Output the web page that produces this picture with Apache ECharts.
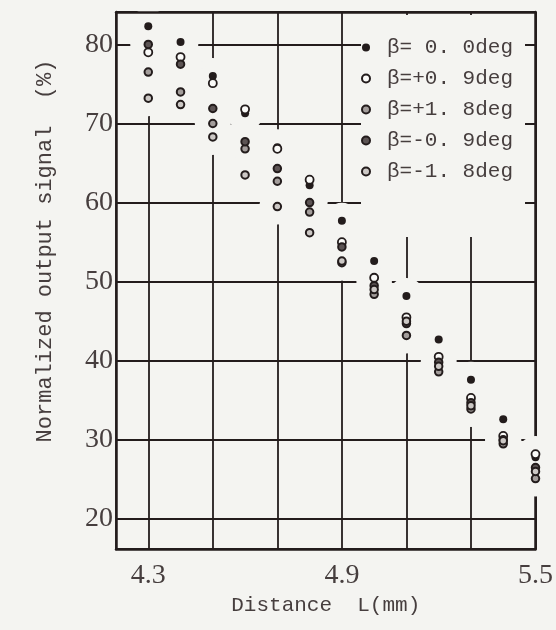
<!DOCTYPE html>
<html><head><meta charset="utf-8">
<script src="https://cdn.jsdelivr.net/npm/echarts@6/dist/echarts.min.js"></script>
<style>html,body{margin:0;padding:0;background:#f4f4f1;} #c{width:556px;height:630px;}</style>
</head><body><div id="c"></div>
<script>
// ---- data ----
const distance = [4.3, 4.4, 4.5, 4.6, 4.7, 4.8, 4.9, 5.0, 5.1, 5.2, 5.3, 5.4, 5.5];
const betaZero   = [82.3, 80.3, 76.0, 71.3, 67.0, 62.2, 57.7, 52.6, 48.2, 42.7, 37.6, 32.6, 27.8];
const betaPlus09 = [79.0, 78.4, 75.1, 71.8, 66.8, 62.9, 55.0, 50.5, 45.5, 40.5, 35.3, 30.5, 28.2];
const betaPlus18 = [76.5, 74.0, 70.0, 66.8, 62.7, 58.8, 52.4, 48.4, 43.2, 38.6, 33.9, 29.5, 25.1];
const betaMinus09= [80.0, 77.5, 71.9, 67.7, 64.3, 60.0, 54.4, 49.5, 44.7, 39.8, 34.7, 30.0, 26.5];
const betaMinus18= [73.2, 72.4, 68.3, 63.5, 59.5, 56.2, 52.6, 49.0, 45.0, 39.3, 34.3, 29.9, 26.0];
const seriesNames = ['β= 0. 0deg', 'β=+0. 9deg', 'β=+1. 8deg', 'β=-0. 9deg', 'β=-1. 8deg'];
const yTickLabels = [20, 30, 40, 50, 60, 70, 80];
const xTickLabels = [4.3, 4.9, 5.5];
const xTitle = 'Distance  L(mm)';
const yTitle = 'Normalized output signal  (%)';

// ---- layout / style ----
const xMin = 4.2, xMax = 5.5, yMin = 16.2, yMax = 84.1;
const gridOrigin = 4.3, gridStep = 0.2;
const ink = '#231c1c';
const txt = '#463e3e';
const bg = '#f4f4f1';

const allValues = [betaZero, betaPlus09, betaPlus18, betaMinus09, betaMinus18];
const styles = [
  {symbolSize: 8,   itemStyle: {color: ink, borderColor: ink, borderWidth: 0, opacity: 1}},
  {symbolSize: 8,   itemStyle: {color: '#fbfbf9', borderColor: ink, borderWidth: 1.8, opacity: 1}},
  {symbolSize: 7.5, itemStyle: {color: '#a39d9b', borderColor: ink, borderWidth: 2, opacity: 1}},
  {symbolSize: 7.5, itemStyle: {color: '#5c5454', borderColor: ink, borderWidth: 2, opacity: 1}},
  {symbolSize: 7.5, itemStyle: {color: '#ccc8c5', borderColor: ink, borderWidth: 2, opacity: 1}}
];
const haloData = [];
allValues.forEach(vals => vals.forEach((v, i) => haloData.push([distance[i], v])));

const near = (a, b) => Math.abs(a - b) < 1e-6;
const axisLineStyle = {color: ink, width: 2.5};
const gridLineStyle = {color: ink, width: 1.8};

const chart = echarts.init(document.getElementById('c'), null, {renderer: 'canvas'});
chart.setOption({
  backgroundColor: bg,
  animation: false,
  grid: {left: 116, right: 19, top: 12, bottom: 81},
  xAxis: [
    {type: 'value', min: xMin, max: xMax, interval: 0.1, position: 'bottom', z: 10,
     axisLine: {show: true, onZero: false, lineStyle: axisLineStyle},
     axisTick: {show: false}, splitLine: {show: false},
     axisLabel: {margin: 13, fontFamily: 'Liberation Serif', fontSize: 28, color: txt,
       formatter: v => xTickLabels.some(t => near(t, v)) ? v.toFixed(1) : ''},
     name: xTitle, nameLocation: 'middle', nameGap: 46,
     nameTextStyle: {fontFamily: 'Liberation Mono', fontSize: 21, color: txt}},
    {type: 'value', min: xMin, max: xMax, position: 'top', z: 10,
     axisLine: {show: true, onZero: false, lineStyle: axisLineStyle},
     axisTick: {show: false}, axisLabel: {show: false}, splitLine: {show: false}},
    {type: 'value', min: (xMin - gridOrigin) / gridStep, max: (xMax - gridOrigin) / gridStep,
     minInterval: 1, maxInterval: 1, position: 'bottom', z: 0,
     axisLine: {show: false}, axisTick: {show: false}, axisLabel: {show: false},
     splitLine: {show: true, lineStyle: gridLineStyle}}
  ],
  yAxis: [
    {type: 'value', min: yMin, max: yMax, minInterval: 10, maxInterval: 10, position: 'left', z: 10,
     axisLine: {show: true, onZero: false, lineStyle: axisLineStyle},
     axisTick: {show: false}, splitLine: {show: false},
     axisLabel: {margin: 3, fontFamily: 'Liberation Serif', fontSize: 28, color: txt,
       showMinLabel: false, showMaxLabel: false,
       formatter: v => yTickLabels.some(t => near(t, v)) ? String(Math.round(v)) : ''}},
    {type: 'value', min: yMin, max: yMax, minInterval: 10, maxInterval: 10, position: 'right', z: 0,
     axisLine: {show: true, onZero: false, lineStyle: axisLineStyle},
     axisTick: {show: false}, axisLabel: {show: false},
     splitLine: {show: true, lineStyle: gridLineStyle}}
  ],
  legend: {
    data: seriesNames, orient: 'vertical', left: 361, top: 15,
    itemWidth: 32, itemHeight: 8, itemGap: 10,
    padding: [22, 12, 55, 0], backgroundColor: bg, z: 5,
    textStyle: {fontFamily: 'Liberation Mono', fontSize: 21, color: txt}
  },
  graphic: [{
    type: 'text', x: 45, y: 251, rotation: Math.PI / 2,
    style: {text: yTitle, font: '22px "Liberation Mono"', fill: txt, align: 'center', verticalAlign: 'middle'}
  }],
  series: [
    {type: 'scatter', name: 'halo', data: haloData, symbolSize: 36, silent: true, z: 2,
     itemStyle: {color: bg, opacity: 1}, xAxisIndex: 0, yAxisIndex: 0}
  ].concat(allValues.map((vals, k) => ({
    type: 'scatter', name: seriesNames[k], z: 3, xAxisIndex: 0, yAxisIndex: 0,
    data: vals.map((v, i) => [distance[i], v]),
    symbol: 'circle', symbolSize: styles[k].symbolSize, itemStyle: styles[k].itemStyle
  })))
});
</script></body></html>
